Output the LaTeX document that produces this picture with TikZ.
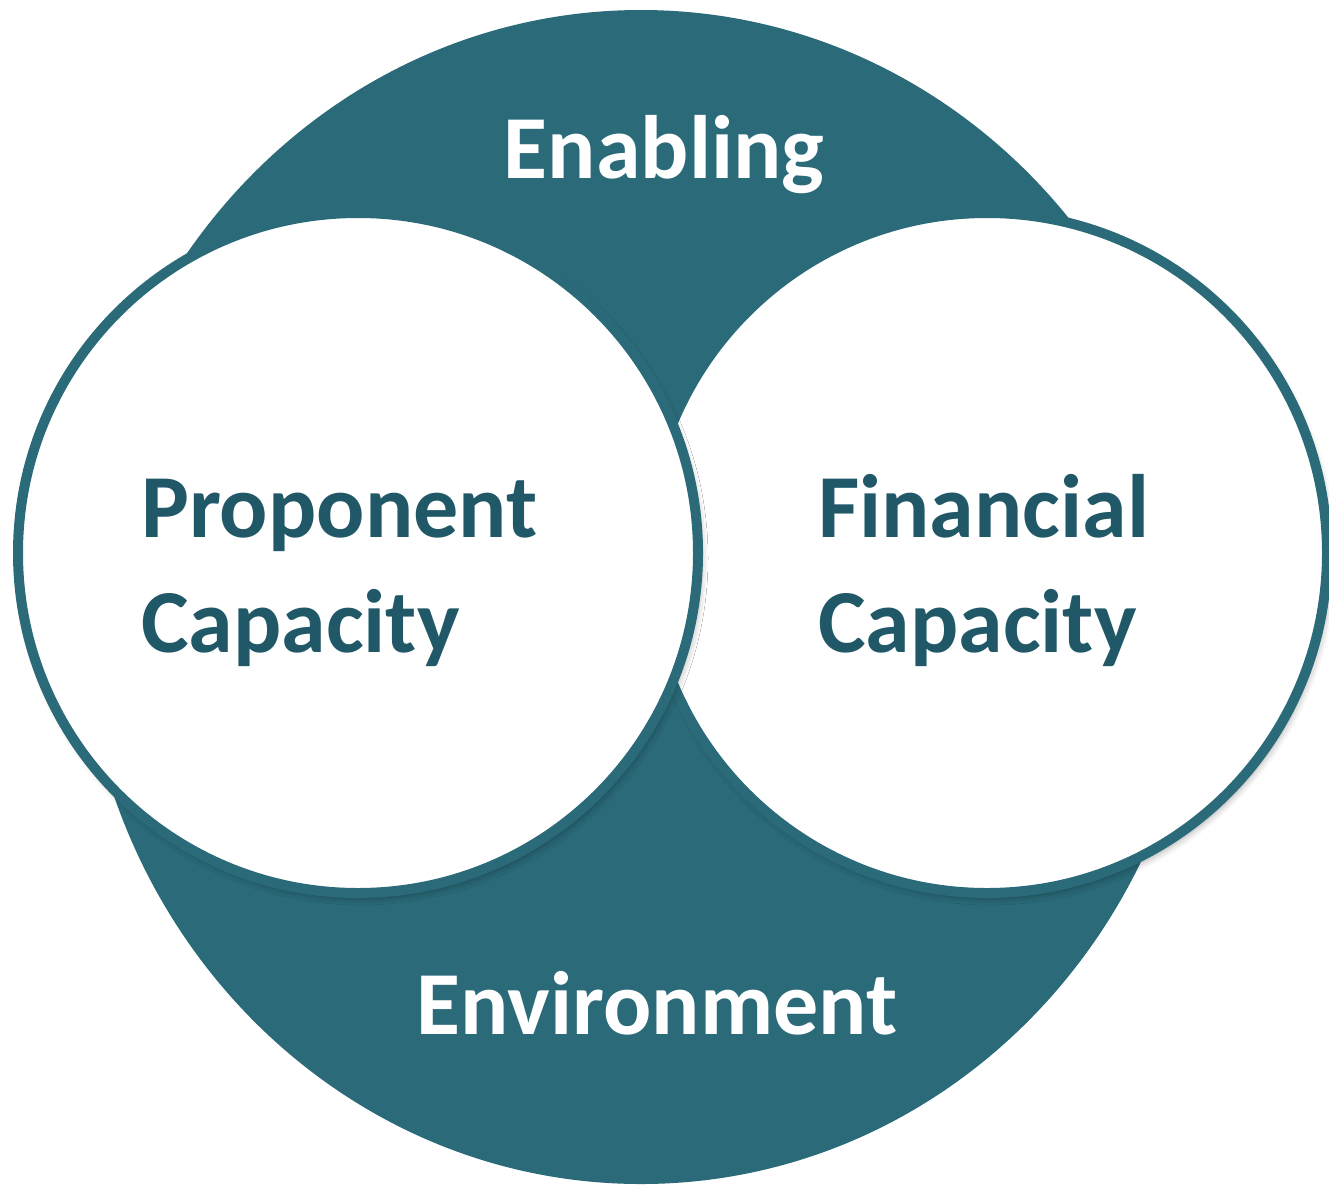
\documentclass[tikz,border=0pt]{standalone}
\usepackage{fontspec}
\setmainfont{Carlito}
\usepackage{xcolor}
\definecolor{petrol}{HTML}{2A6A79}
\definecolor{petroldark}{HTML}{215868}
\usepackage{tikz}
\usetikzlibrary{shapes.geometric,shadows.blur}

\begin{document}
\begin{tikzpicture}[x=1pt,y=-1pt,
  backdrop/.style={ellipse,fill=petrol,minimum width=1120pt,minimum height=1174pt,inner sep=0pt},
  ring/.style={circle,draw=petrol,line width=10pt,fill=white,minimum size=680pt,inner sep=0pt,
    blur shadow={shadow xshift=3pt,shadow yshift=-5pt,shadow blur radius=7pt,shadow opacity=35}},
  headtxt/.style={inner sep=0pt,text=white,font=\fontsize{90}{115}\selectfont\bfseries},
  ringtxt/.style={inner sep=0pt,text=petroldark,align=left,font=\fontsize{90}{115}\selectfont\bfseries}]
  \useasboundingbox (0,0) rectangle (1329,1189);
  % outer field and the two capacity circles (left one on top)
  \node[backdrop] (field) at (641,597) {};
  \node[ring] (financial) at (987,553) {};
  \node[ring] (proponent) at (358,553) {};
  % texts (base = baseline of the last line)
  \node[headtxt,anchor=base] (enabling) at (664,178) {Enabling};
  \node[headtxt,anchor=base] (environment) at (657,1034) {Environment};
  \node[ringtxt,anchor=base west] (proponenttxt) at (141,652) {Proponent\\Capacity};
  \node[ringtxt,anchor=base west] (financialtxt) at (818,652) {Financial\\Capacity};
\end{tikzpicture}
\end{document}
